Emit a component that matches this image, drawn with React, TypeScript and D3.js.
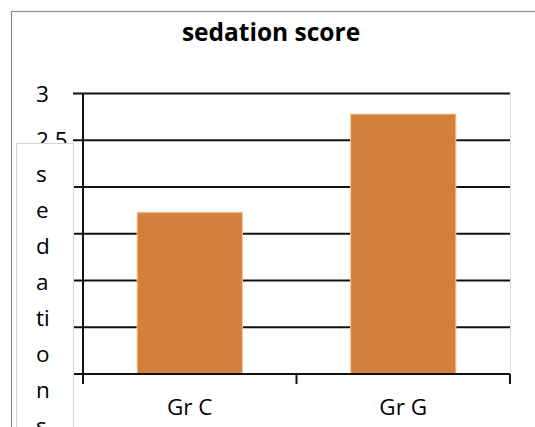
import React, { useEffect, useRef } from 'react';
import { select, scaleBand, scaleLinear } from 'd3';

const categories = ['Gr C', 'Gr G'];
const scores = [1.73, 2.78];
const yTicks = [0, 0.5, 1, 1.5, 2, 2.5, 3];
const yTickLabels = ['0', '0.5', '1', '1.5', '2', '2.5', '3'];
const axisTitleLines = ['s', 'e', 'd', 'a', 'ti', 'o', 'n', 's'];
const chartTitle = 'sedation score';

const App = () => {
    const svgRef = useRef(null);
    const width = 535, height = 427;
    const plot = { left: 83, right: 510, top: 93.5, bottom: 374 };
    const font = "'Open Sans', 'Noto Sans', sans-serif";

    useEffect(() => {
        const svg = select(svgRef.current);
        svg.selectAll('*').remove();

        const x = scaleBand()
            .domain(categories)
            .range([plot.left, plot.right])
            .paddingInner(0.507)
            .paddingOuter(0.2535);

        const y = scaleLinear()
            .domain([0, 3])
            .range([plot.bottom, plot.top]);

        svg.append('rect')
            .attr('width', width)
            .attr('height', height)
            .attr('fill', '#fff');

        // outer chart border
        svg.append('rect')
            .attr('x', 11.5)
            .attr('y', 11.5)
            .attr('width', 600)
            .attr('height', 600)
            .attr('fill', 'none')
            .attr('stroke', '#8c8c8c')
            .attr('stroke-width', 1.2);

        svg.append('text')
            .attr('x', 271)
            .attr('y', 41)
            .attr('text-anchor', 'middle')
            .style('font-family', font)
            .style('font-weight', 'bold')
            .style('font-size', '24.5px')
            .text(chartTitle);

        // plot area right border
        svg.append('line')
            .attr('x1', plot.right + 0.5)
            .attr('x2', plot.right + 0.5)
            .attr('y1', plot.top)
            .attr('y2', plot.bottom)
            .attr('stroke', '#d9d9d9')
            .attr('stroke-width', 1);

        // y tick labels
        svg.append('g')
            .selectAll('text')
            .data(yTicks)
            .enter()
            .append('text')
            .attr('x', 36)
            .attr('y', d => y(d) + 8)
            .style('font-family', font)
            .style('font-size', '22.5px')
            .style('fill', '#000')
            .text((d, i) => yTickLabels[i]);

        // gridlines + left tick marks
        svg.append('g')
            .selectAll('line')
            .data(yTicks)
            .enter()
            .append('line')
            .attr('x1', plot.left - 10)
            .attr('x2', plot.right)
            .attr('y1', d => y(d))
            .attr('y2', d => y(d))
            .attr('stroke', '#111')
            .attr('stroke-width', 2);

        // bars
        svg.append('g')
            .selectAll('rect')
            .data(scores)
            .enter()
            .append('rect')
            .attr('x', (d, i) => x(categories[i]))
            .attr('y', d => y(d))
            .attr('width', x.bandwidth())
            .attr('height', d => y(0) - y(d))
            .attr('fill', '#d4803c')
            .attr('stroke', '#f2c9a6')
            .attr('stroke-width', 1);

        // y axis line
        svg.append('line')
            .attr('x1', plot.left)
            .attr('x2', plot.left)
            .attr('y1', plot.top)
            .attr('y2', plot.bottom + 10)
            .attr('stroke', '#111')
            .attr('stroke-width', 2);

        // x axis line and ticks
        svg.append('line')
            .attr('x1', plot.left)
            .attr('x2', plot.right)
            .attr('y1', plot.bottom)
            .attr('y2', plot.bottom)
            .attr('stroke', '#111')
            .attr('stroke-width', 2);

        const boundaries = categories.map(c => x(c) + x.bandwidth() + x.step() * 0.2535);
        svg.append('g')
            .selectAll('line')
            .data(boundaries)
            .enter()
            .append('line')
            .attr('x1', d => d)
            .attr('x2', d => d)
            .attr('y1', plot.bottom)
            .attr('y2', plot.bottom + 10)
            .attr('stroke', '#111')
            .attr('stroke-width', 2);

        svg.append('g')
            .selectAll('text')
            .data(categories)
            .enter()
            .append('text')
            .attr('x', d => x(d) + x.bandwidth() / 2)
            .attr('y', 415)
            .attr('text-anchor', 'middle')
            .style('font-family', font)
            .style('font-size', '22.5px')
            .text(d => d);

        // y axis title box (covers the lower tick labels)
        svg.append('rect')
            .attr('x', 16.5)
            .attr('y', 143.5)
            .attr('width', 57)
            .attr('height', 400)
            .attr('fill', '#fff')
            .attr('stroke', '#d4d4d4')
            .attr('stroke-width', 1);

        svg.append('g')
            .selectAll('text')
            .data(axisTitleLines)
            .enter()
            .append('text')
            .attr('x', 36)
            .attr('y', (d, i) => 182 + i * 36)
            .style('font-family', font)
            .style('font-size', '22.5px')
            .text(d => d);
    }, []);

    return (
        <svg
            ref={svgRef}
            width={width}
            height={height}
            style={{ position: 'absolute', left: 0, top: 0 }}
        />
    );
};

export default App;
